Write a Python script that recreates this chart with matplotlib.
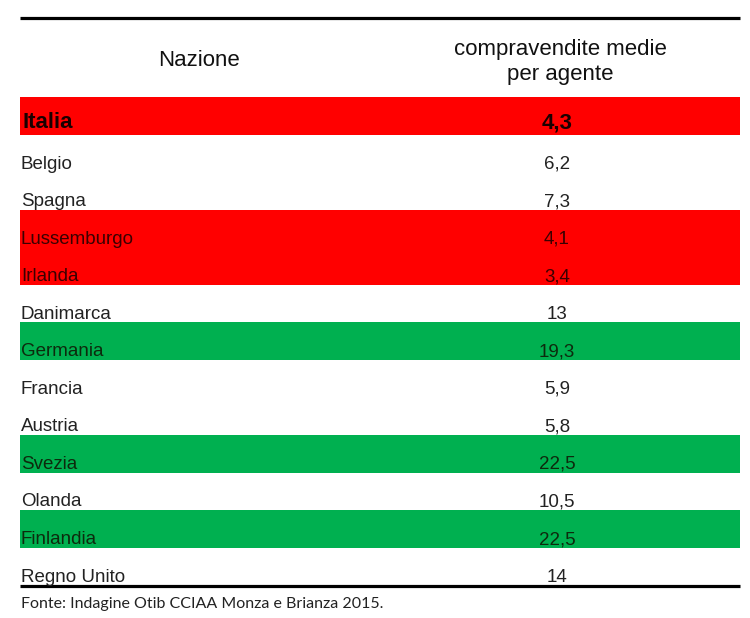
import matplotlib
matplotlib.use("Agg")
import matplotlib.pyplot as plt
from matplotlib.patches import Rectangle

# dati della tabella
nazioni = ["Italia", "Belgio", "Spagna", "Lussemburgo", "Irlanda", "Danimarca",
           "Germania", "Francia", "Austria", "Svezia", "Olanda", "Finlandia",
           "Regno Unito"]
valori = ["4,3", "6,2", "7,3", "4,1", "3,4", "13", "19,3", "5,9", "5,8",
          "22,5", "10,5", "22,5", "14"]
# evidenziazione: basso = rosso, alto = verde
evidenza = ["basso", "", "", "basso", "basso", "", "alto", "", "", "alto",
            "", "alto", ""]
intestazione = ["Nazione", "compravendite medie\nper agente"]
fonte = "Fonte: Indagine Otib CCIAA Monza e Brianza 2015."

colori = {"basso": "#FF0000", "alto": "#00B050"}
font_tab = ["Liberation Sans Narrow", "Liberation Sans", "DejaVu Sans"]

fig = plt.figure(figsize=(7.5, 6.18), dpi=100)
ax = fig.add_axes([0, 0, 1, 1])
ax.set_xlim(0, 750)
ax.set_ylim(618, 0)
ax.axis("off")

x0, x1 = 20, 740
top = 97.0
h = 37.55
x_val = 557
y_fondo = top + h * len(nazioni)

# linea superiore e inferiore
ax.plot([x0, x1], [17.5, 17.5], color="black", lw=2.3, solid_capstyle="butt")
ax.plot([x0, x1], [y_fondo + 1, y_fondo + 1], color="black", lw=2.3,
        solid_capstyle="butt")

# intestazione
ax.text(199, 66, intestazione[0], ha="center", va="baseline", fontsize=16,
        family=font_tab, color="#111111")
for k, riga in enumerate(intestazione[1].split("\n")):
    ax.text(560, 55 + 25 * k, riga, ha="center", va="baseline", fontsize=16,
            family=font_tab, color="#111111")

for i, (naz, val, ev) in enumerate(zip(nazioni, valori, evidenza)):
    y = top + i * h
    if ev:
        ax.add_patch(Rectangle((x0, y), x1 - x0, h, color=colori[ev], lw=0))
    if i == 0:
        yb = y + 31.5
        ax.text(x0 + 2, yb, naz, ha="left", va="baseline", fontsize=16,
                fontweight="bold", family=font_tab, color="#1a0000")
        ax.text(x_val, yb, val, ha="center", va="baseline", fontsize=16,
                fontweight="bold", family=font_tab, color="#1a0000")
    else:
        yb = y + 34
        tc = "#3a0000" if ev == "basso" else ("#0d2a0d" if ev == "alto" else "#222222")
        ax.text(x0 + 1, yb, naz, ha="left", va="baseline", fontsize=13.5,
                family=font_tab, color=tc)
        ax.text(x_val, yb, val, ha="center", va="baseline", fontsize=13.5,
                family=font_tab, color=tc)

ax.text(x0 + 1, 608, fonte, ha="left", va="baseline", fontsize=11.5,
        family=["Lato", "DejaVu Sans"], color="#222222")

fig.savefig("out.png", dpi=100, facecolor="white")
